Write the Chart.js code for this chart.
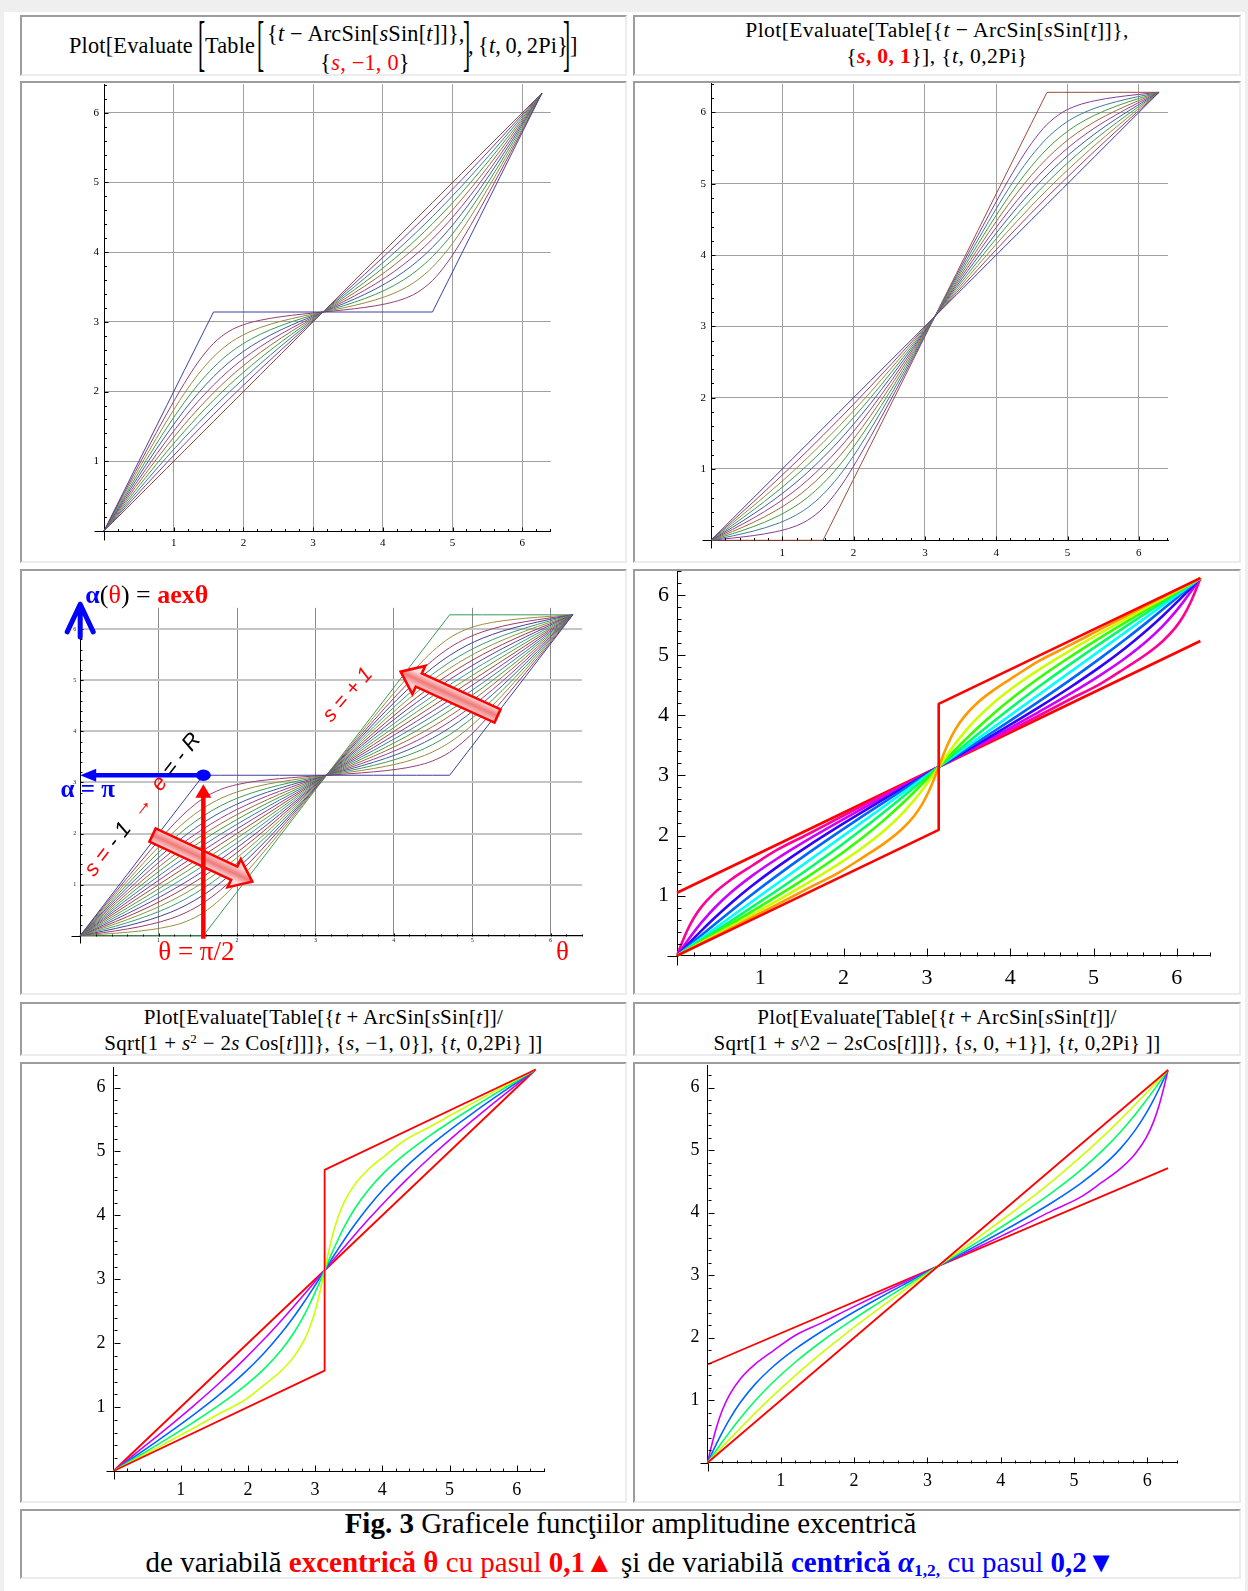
<!DOCTYPE html>
<html lang="ro">
<head>
<meta charset="utf-8">
<title>Fig. 3</title>
<script src="https://cdn.jsdelivr.net/npm/chart.js@4.4.1/dist/chart.umd.min.js"></script>
<style>
html,body{margin:0;padding:0}
body{position:relative;width:1248px;height:1591px;background:#efefef;overflow:hidden;font-family:"Liberation Serif","Times New Roman",serif;color:#000}
#sheet{position:absolute;left:4px;top:12px;width:1241px;height:1579px;background:#fff}
.cell{position:absolute;box-sizing:border-box;border-style:solid;border-width:2px;border-color:#9d9d9d #ececec #ececec #9d9d9d;background:#fff}
.cell canvas{position:absolute;left:0;top:0}
.hdr{font-size:21.6px;letter-spacing:0.4px}
.hdr3{font-size:21px;letter-spacing:0.3px}
.h1l{font-size:22.3px;letter-spacing:0.2px}
.ln{position:absolute;left:0;right:0;text-align:center;white-space:nowrap;line-height:24px}
.pc{position:absolute;white-space:nowrap;line-height:24px}
.r{color:#f00}
.bl{color:#00f}
.big{font-size:21.6px;transform:scale(1,2.85);transform-origin:50% 55%}
.stk{text-align:center;line-height:29px}
sup{font-size:0.62em;line-height:0;vertical-align:0.55em}
.cap{font-size:29px;letter-spacing:0}
.cap .ln{line-height:38.6px}
.cap sub{font-size:0.6em;line-height:0;vertical-align:-0.25em}
</style>
</head>
<body>
<div id="sheet"></div>

<div class="cell h1l" style="left:20px;top:15px;width:607px;height:61px">
  <span class="pc" style="left:47px;top:16.5px">Plot[Evaluate</span>
  <span class="pc big" style="left:176px;top:16.5px">[</span>
  <span class="pc" style="left:183px;top:16.5px">Table</span>
  <span class="pc big" style="left:235px;top:16.5px">[</span>
  <span class="pc stk" style="left:245px;top:2px;width:196px">{<i>t</i> − ArcSin[<i>s</i>Sin[<i>t</i>]]},<br>{<span class="r"><i>s</i>, −1, 0</span>}</span>
  <span class="pc big" style="left:441px;top:16.5px">]</span>
  <span class="pc" style="left:446px;top:16.5px;word-spacing:-1.5px">, {<i>t</i>, 0, 2Pi}</span>
  <span class="pc big" style="left:541px;top:16.5px">]</span>
  <span class="pc" style="left:548px;top:16.5px">]</span>
</div>
<div class="cell hdr" style="left:633px;top:15px;width:608px;height:61px">
  <div class="ln" style="top:1px">Plot[Evaluate[Table[{<i>t</i> − ArcSin[<i>s</i>Sin[<i>t</i>]]},</div>
  <div class="ln" style="top:27px">{<b class="r"><i>s</i>, 0, 1</b>}], {<i>t</i>, 0,2Pi}</div>
</div>

<div class="cell" style="left:20px;top:81px;width:607px;height:482px"><canvas id="c1"></canvas></div>
<div class="cell" style="left:633px;top:81px;width:608px;height:482px"><canvas id="c2"></canvas></div>
<div class="cell" style="left:20px;top:569px;width:607px;height:426px"><canvas id="c3"></canvas></div>
<div class="cell" style="left:633px;top:569px;width:608px;height:426px"><canvas id="c4"></canvas></div>

<div class="cell hdr3" style="left:20px;top:1002px;width:607px;height:54px">
  <div class="ln" style="top:1px">Plot[Evaluate[Table[{<i>t</i> + ArcSin[<i>s</i>Sin[<i>t</i>]]/</div>
  <div class="ln" style="top:27px">Sqrt[1 + <i>s</i><sup>2</sup> − 2<i>s</i> Cos[<i>t</i>]]]}, {<i>s</i>, −1, 0}], {<i>t</i>, 0,2Pi} ]]</div>
</div>
<div class="cell hdr3" style="left:633px;top:1002px;width:608px;height:54px">
  <div class="ln" style="top:1px">Plot[Evaluate[Table[{<i>t</i> + ArcSin[<i>s</i>Sin[<i>t</i>]]/</div>
  <div class="ln" style="top:27px">Sqrt[1 + <i>s</i>^2 − 2<i>s</i>Cos[<i>t</i>]]]}, {<i>s</i>, 0, +1}], {<i>t</i>, 0,2Pi} ]]</div>
</div>

<div class="cell" style="left:20px;top:1062px;width:607px;height:441px"><canvas id="c5"></canvas></div>
<div class="cell" style="left:633px;top:1062px;width:608px;height:441px"><canvas id="c6"></canvas></div>

<div class="cell cap" style="left:20px;top:1509px;width:1221px;height:70px">
  <div class="ln" style="top:-7.1px"><b>Fig. 3</b> Graficele funcţiilor amplitudine excentrică</div>
  <div class="ln" style="top:31.5px">de variabilă <b class="r">excentrică θ</b><span class="r"> cu pasul </span><b class="r">0,1▲</b> şi de variabilă <b class="bl">centrică <i>α</i><sub>1,2,</sub></b><span class="bl"> cu pasul </span><b class="bl">0,2▼</b></div>
</div>

<script>
// ================= DATA =================
// grid of t for the excentric families (panels 1-3)
const T25 = [0,0.3,0.6,0.9,1.15,1.35,1.5708,1.7916,1.9916,2.2416,2.5416,2.8416,3.1416,3.4416,3.7416,4.0416,4.2916,4.4916,4.7124,4.9332,5.1332,5.3832,5.6832,5.9832,6.2832];
// t - ArcSin[s Sin[t]] for s = -1 ... 1 (step 0.1)
const exS_m10 = [0,0.6,1.2,1.8,2.3,2.7,3.142,3.142,3.142,3.142,3.142,3.142,3.142,3.142,3.142,3.142,3.142,3.142,3.142,3.583,3.983,4.483,5.083,5.683,6.283];
const exS_m09 = [0,0.569,1.133,1.682,2.114,2.422,2.691,2.864,2.956,3.024,3.075,3.111,3.142,3.172,3.208,3.259,3.328,3.420,3.593,3.861,4.169,4.601,5.150,5.714,6.283];
const exS_m08 = [0,0.539,1.069,1.577,1.969,2.246,2.498,2.687,2.810,2.919,3.010,3.080,3.142,3.203,3.273,3.364,3.473,3.596,3.785,4.038,4.315,4.706,5.215,5.745,6.283];
const exS_m07 = [0,0.508,1.006,1.480,1.843,2.102,2.346,2.544,2.685,2.822,2.948,3.050,3.142,3.233,3.335,3.461,3.599,3.740,3.937,4.181,4.440,4.803,5.277,5.775,6.283];
const exS_m06 = [0,0.478,0.946,1.389,1.730,1.975,2.214,2.417,2.571,2.731,2.887,3.020,3.142,3.263,3.396,3.552,3.712,3.866,4.069,4.308,4.554,4.894,5.338,5.805,6.283];
const exS_m05 = [0,0.448,0.886,1.302,1.624,1.860,2.094,2.301,2.466,2.644,2.828,2.990,3.142,3.293,3.455,3.639,3.818,3.982,4.189,4.424,4.659,4.981,5.397,5.835,6.283];
const exS_m04 = [0,0.419,0.828,1.219,1.524,1.751,1.982,2.193,2.365,2.560,2.769,2.960,3.142,3.323,3.514,3.723,3.918,4.091,4.301,4.532,4.760,5.065,5.455,5.865,6.283];
const exS_m03 = [0,0.389,0.770,1.137,1.427,1.647,1.876,2.089,2.269,2.479,2.712,2.930,3.142,3.353,3.571,3.804,4.014,4.195,4.408,4.636,4.856,5.146,5.513,5.894,6.283];
const exS_m02 = [0,0.359,0.713,1.057,1.334,1.546,1.772,1.988,2.175,2.399,2.655,2.901,3.142,3.383,3.628,3.884,4.108,4.295,4.511,4.737,4.950,5.226,5.570,5.924,6.283];
const exS_m01 = [0,0.330,0.657,0.978,1.241,1.448,1.671,1.889,2.083,2.320,2.598,2.871,3.142,3.412,3.685,3.963,4.200,4.394,4.612,4.836,5.042,5.305,5.627,5.954,6.283];
const exS_00  = [0,0.3,0.6,0.9,1.15,1.35,1.571,1.792,1.992,2.242,2.542,2.842,3.142,3.442,3.742,4.042,4.292,4.492,4.712,4.933,5.133,5.383,5.683,5.983,6.283];
const exS_p01 = [0,0.270,0.543,0.822,1.059,1.252,1.471,1.694,1.900,2.163,2.485,2.812,3.142,3.471,3.798,4.120,4.383,4.589,4.813,5.030,5.224,5.461,5.739,6.012,6.283];
const exS_p02 = [0,0.241,0.487,0.743,0.966,1.154,1.370,1.595,1.808,2.084,2.428,2.782,3.142,3.500,3.855,4.199,4.475,4.688,4.914,5.129,5.316,5.540,5.796,6.042,6.283];
const exS_p03 = [0,0.211,0.430,0.663,0.873,1.053,1.266,1.494,1.714,2.004,2.371,2.753,3.142,3.530,3.912,4.279,4.569,4.788,5.017,5.230,5.410,5.620,5.853,6.072,6.283];
const exS_p04 = [0,0.181,0.372,0.581,0.776,0.949,1.160,1.390,1.618,1.923,2.314,2.723,3.142,3.560,3.969,4.360,4.665,4.892,5.124,5.334,5.506,5.701,5.911,6.101,6.283];
const exS_p05 = [0,0.152,0.314,0.498,0.676,0.840,1.048,1.282,1.517,1.839,2.255,2.693,3.142,3.590,4.028,4.444,4.765,5.001,5.236,5.442,5.607,5.785,5.969,6.131,6.283];
const exS_p06 = [0,0.122,0.254,0.411,0.570,0.725,0.928,1.166,1.412,1.752,2.196,2.663,3.142,3.620,4.087,4.531,4.871,5.117,5.356,5.558,5.712,5.872,6.028,6.161,6.283];
const exS_p07 = [0,0.092,0.194,0.320,0.457,0.598,0.796,1.039,1.298,1.661,2.135,2.633,3.142,3.650,4.148,4.622,4.984,5.243,5.488,5.685,5.826,5.963,6.089,6.191,6.283];
const exS_p08 = [0,0.061,0.131,0.223,0.331,0.454,0.644,0.896,1.173,1.564,2.073,2.603,3.142,3.680,4.210,4.719,5.110,5.387,5.640,5.828,5.951,6.060,6.151,6.221,6.283];
const exS_p09 = [0,0.031,0.067,0.118,0.186,0.278,0.451,0.719,1.027,1.459,2.008,2.572,3.142,3.711,4.275,4.824,5.255,5.563,5.832,6.005,6.097,6.165,6.216,6.252,6.283];
const exS_p10 = [0,0,0,0,0,0,0,0.442,0.842,1.342,1.942,2.542,3.142,3.742,4.342,4.942,5.442,5.842,6.283,6.283,6.283,6.283,6.283,6.283,6.283];

// grid of t for the centric families (panels 4-6)
const T37 = [0,0.05,0.12,0.2,0.3,0.45,0.65,0.9,1.2,1.5708,1.9416,2.2416,2.4916,2.6916,2.8416,2.9416,3.0216,3.0916,3.1416,3.1916,3.2616,3.3416,3.4416,3.5916,3.7916,4.0416,4.3416,4.7124,5.0832,5.3832,5.6332,5.8332,5.9832,6.0832,6.1632,6.2332,6.2832];
// t + ArcSin[s Sin[t]/Sqrt[1+s^2-2s Cos[t]]]  (panels 5, 6)
const cS_m08 = [0,0.0278,0.0667,0.1112,0.1668,0.2504,0.3624,0.5036,0.6759,0.8961,1.1027,1.3469,1.5643,1.7978,2.0547,2.3071,2.5860,2.8952,3.1416,3.3880,3.6972,3.9761,4.2285,4.4854,4.7189,4.9363,5.1805,5.3871,5.6073,5.7796,5.9208,6.0328,6.1164,6.1720,6.2165,6.2554,6.2832];
const cS_m06 = [0,0.0313,0.0750,0.1251,0.1878,0.2822,0.4090,0.5702,0.7694,1.0304,1.3211,1.5984,1.8841,2.1753,2.4478,2.6599,2.8458,3.0169,3.1416,3.2663,3.4374,3.6233,3.8354,4.1079,4.3991,4.6848,4.9621,5.2528,5.5138,5.7130,5.8742,6.0010,6.0954,6.1581,6.2082,6.2519,6.2832];
const cS_m04 = [0,0.0357,0.0857,0.1430,0.2147,0.3228,0.4684,0.6541,0.8852,1.1903,1.5304,1.8465,2.1503,2.4261,2.6526,2.8116,2.9423,3.0583,3.1416,3.2249,3.3409,3.4716,3.6306,3.8571,4.1329,4.4367,4.7528,5.0929,5.3980,5.6291,5.8148,5.9604,6.0685,6.1402,6.1975,6.2475,6.2832];
const cS_m02 = [0,0.0417,0.1000,0.1668,0.2504,0.3764,0.5460,0.7616,1.0279,1.3734,1.7433,2.0646,2.3486,2.5859,2.7687,2.8922,2.9917,3.0791,3.1416,3.2041,3.2915,3.3910,3.5145,3.6973,3.9346,4.2186,4.5399,4.9098,5.2553,5.5216,5.7372,5.9068,6.0328,6.1164,6.1832,6.2415,6.2832];
const cS_p02 = [0,0.0625,0.1499,0.2494,0.3729,0.5557,0.7930,1.0770,1.3983,1.7682,2.1137,2.3800,2.5956,2.7652,2.8912,2.9748,3.0416,3.0999,3.1416,3.1833,3.2416,3.3084,3.3920,3.5180,3.6876,3.9032,4.1695,4.5150,4.8849,5.2062,5.4902,5.7275,5.9103,6.0338,6.1333,6.2207,6.2832];
const cS_p04 = [0,0.0833,0.1993,0.3300,0.4890,0.7155,0.9913,1.2951,1.6112,1.9513,2.2564,2.4875,2.6732,2.8188,2.9269,2.9986,3.0559,3.1059,3.1416,3.1773,3.2273,3.2846,3.3563,3.4644,3.6100,3.7957,4.0268,4.3319,4.6720,4.9881,5.2919,5.5677,5.7942,5.9532,6.0839,6.1999,6.2832];
const cS_p06 = [0,0.1247,0.2958,0.4817,0.6938,0.9663,1.2575,1.5432,1.8205,2.1112,2.3722,2.5714,2.7326,2.8594,2.9538,3.0165,3.0666,3.1103,3.1416,3.1729,3.2166,3.2667,3.3294,3.4238,3.5506,3.7118,3.9110,4.1720,4.4627,4.7400,5.0257,5.3169,5.5894,5.8015,5.9874,6.1585,6.2832];
const cS_p08 = [0,0.2464,0.5556,0.8345,1.0869,1.3438,1.5773,1.7947,2.0389,2.2455,2.4657,2.6380,2.7792,2.8912,2.9748,3.0304,3.0749,3.1138,3.1416,3.1694,3.2083,3.2528,3.3084,3.3920,3.5040,3.6452,3.8175,4.0377,4.2443,4.4885,4.7059,4.9394,5.1963,5.4487,5.7276,6.0368,6.2832];
// straight / broken extreme curves (vertices)
const cS_m10_t = [0, 3.1416, 3.1416, 6.2832], cS_m10_y = [0, 1.5708, 4.7124, 6.2832];
const cS_00_t  = [0, 6.2832],                 cS_00_y  = [0, 6.2832];
const cS_p10_t = [0, 6.2832],                 cS_p10_y = [1.5708, 4.7124];
// mixed family of the 4th panel, s = -1 ... 1 (step 0.2)
const mS_m08 = [0,0.0352,0.0845,0.1408,0.2112,0.3169,0.4583,0.6357,0.8506,1.1210,1.3823,1.6451,1.8734,2.0957,2.3170,2.5186,2.7312,2.9607,3.1416,3.3225,3.5520,3.7646,3.9662,4.1875,4.4098,4.6381,4.9009,5.1622,5.4326,5.6475,5.8249,5.9663,6.0720,6.1424,6.1987,6.2480,6.2832];
const mS_m06 = [0,0.0375,0.0900,0.1501,0.2252,0.3381,0.4893,0.6801,0.9129,1.2105,1.5279,1.8128,2.0866,2.3474,2.5791,2.7538,2.9044,3.0418,3.1416,3.2414,3.3788,3.5294,3.7041,3.9358,4.1966,4.4704,4.7553,5.0727,5.3703,5.6031,5.7939,5.9451,6.0580,6.1331,6.1932,6.2457,6.2832];
const mS_m04 = [0,0.0405,0.0971,0.1620,0.2431,0.3652,0.5289,0.7361,0.9901,1.3171,1.6675,1.9782,2.2641,2.5146,2.7156,2.8549,2.9687,3.0694,3.1416,3.2138,3.3145,3.4283,3.5676,3.7686,4.0191,4.3050,4.6157,4.9661,5.2931,5.5471,5.7543,5.9180,6.0401,6.1212,6.1861,6.2427,6.2832];
const mS_m02 = [0,0.0445,0.1067,0.1779,0.2669,0.4009,0.5807,0.8077,1.0853,1.4392,1.8094,2.1236,2.3963,2.6211,2.7930,2.9087,3.0017,3.0833,3.1416,3.1999,3.2815,3.3745,3.4902,3.6621,3.8869,4.1596,4.4738,4.8440,5.1979,5.4755,5.7025,5.8823,6.0163,6.1053,6.1765,6.2387,6.2832];
const mS_p02 = [0,0.0583,0.1399,0.2329,0.3486,0.5205,0.7453,1.0180,1.3322,1.7024,2.0563,2.3339,2.5609,2.7407,2.8747,2.9637,3.0349,3.0971,3.1416,3.1861,3.2483,3.3195,3.4085,3.5425,3.7223,3.9493,4.2269,4.5808,4.9510,5.2652,5.5379,5.7627,5.9346,6.0503,6.1433,6.2249,6.2832];
const mS_p04 = [0,0.0722,0.1729,0.2867,0.4260,0.6270,0.8775,1.1634,1.4741,1.8245,2.1515,2.4055,2.6127,2.7764,2.8985,2.9796,3.0445,3.1011,3.1416,3.1821,3.2387,3.3036,3.3847,3.5068,3.6705,3.8777,4.1317,4.4587,4.8091,5.1198,5.4057,5.6562,5.8572,5.9965,6.1103,6.2110,6.2832];
const mS_p06 = [0,0.0998,0.2372,0.3878,0.5625,0.7942,1.0550,1.3288,1.6137,1.9311,2.2287,2.4615,2.6523,2.8035,2.9164,2.9915,3.0516,3.1041,3.1416,3.1791,3.2316,3.2917,3.3668,3.4797,3.6309,3.8217,4.0545,4.3521,4.6695,4.9544,5.2282,5.4890,5.7207,5.8954,6.0460,6.1834,6.2832];
const mS_p08 = [0,0.1809,0.4104,0.6230,0.8246,1.0459,1.2682,1.4965,1.7593,2.0206,2.2910,2.5059,2.6833,2.8247,2.9304,3.0008,3.0571,3.1064,3.1416,3.1768,3.2261,3.2824,3.3528,3.4585,3.5999,3.7773,3.9922,4.2626,4.5239,4.7867,5.0150,5.2373,5.4586,5.6602,5.8728,6.1023,6.2832];
const mS_m10_t = [0, 3.1416, 3.1416, 6.2832], mS_m10_y = [0, 2.0944, 4.1888, 6.2832];
const mS_p10_t = [0, 6.2832],                 mS_p10_y = [1.0472, 5.2360];
// axis tick values
const axisTicks = [0,1,2,3,4,5,6];

// ================= STYLE =================
const PAL = ['#3F3D99','#993D73','#998A3D','#3D9954','#3D5C99','#993D91','#996B3D','#45993D','#3D7A99','#823D99','#994C3D','#63993D','#3D9999','#633D99','#993D4C','#82993D','#3D997A','#433D99','#993D6D','#99903D','#3D995A'];
const HUE10 = ['#FF0000','#FF9900','#CCFF00','#33FF00','#00FF66','#00FFFF','#0066FF','#3300FF','#CC00FF','#FF0099','#FF0000'];
const HUE5 = ['#FF0000','#CCFF00','#00FF66','#0066FF','#CC00FF','#FF0000'];

// minor/major ticks drawn inside, Mathematica style, plus the short negative axis stubs
const mmTicks = {
  id: 'mmTicks',
  afterDatasetsDraw(chart, args, o) {
    if (!o || !o.maj) return;
    const c = chart.ctx, xs = chart.scales.x, ys = chart.scales.y;
    const x0 = Math.round(xs.getPixelForValue(0)) + 0.5, y0 = Math.round(ys.getPixelForValue(0)) + 0.5;
    c.save(); c.strokeStyle = '#000'; c.lineWidth = 1; c.beginPath();
    const nx = Math.floor(xs.max * 5 + 1e-6), ny = Math.floor(ys.max * 5 + 1e-6);
    for (let i = 1; i <= nx; i++) { const p = Math.round(xs.getPixelForValue(i / 5)) + 0.5; const l = i % 5 === 0 ? o.maj : o.min; c.moveTo(p, y0); c.lineTo(p, y0 - l); }
    for (let i = 1; i <= ny; i++) { const p = Math.round(ys.getPixelForValue(i / 5)) + 0.5; const l = i % 5 === 0 ? o.maj : o.min; c.moveTo(x0, p); c.lineTo(x0 + l, p); }
    c.moveTo(x0 - o.xl, y0); c.lineTo(x0, y0);
    c.moveTo(x0, y0); c.lineTo(x0, y0 + o.yd);
    c.stroke(); c.restore();
  }
};
Chart.register(mmTicks);

function series(xs, ys, color, w, smooth) {
  return { data: xs.map((x, i) => ({ x: x, y: ys[i] })), borderColor: color, backgroundColor: color,
    borderWidth: w, pointRadius: 0, pointHoverRadius: 0, showLine: true, fill: false, tension: 0,
    cubicInterpolationMode: smooth ? 'monotone' : 'default', clip: false, borderJoinStyle: 'round' };
}

function makeChart(id, box, g, st, datasets, plugins) {
  const cv = document.getElementById(id);
  cv.width = box.w; cv.height = box.h; cv.style.width = box.w + 'px'; cv.style.height = box.h + 'px';
  const L = g.ox - box.x, B = g.oy - box.y, R = L + g.xmax * g.ux, T = B - g.ymax * g.uy;
  const font = { family: 'Liberation Serif', size: st.fs };
  const mkTicks = s => { s.ticks = axisTicks.map(v => ({ value: v })); };
  const zeroPad = s => { s.paddingLeft = 0; s.paddingRight = 0; s.paddingTop = 0; s.paddingBottom = 0; };
  return new Chart(cv, {
    type: 'scatter',
    data: { datasets },
    options: {
      responsive: false, maintainAspectRatio: false, animation: false, devicePixelRatio: 1, events: [],
      layout: { padding: { left: L - st.yW, right: box.w - R, top: T, bottom: box.h - B - st.xH } },
      plugins: { legend: { display: false }, tooltip: { enabled: false }, mmTicks: st.mm },
      scales: {
        x: { type: 'linear', position: 'bottom', min: 0, max: g.xmax, afterBuildTicks: mkTicks,
          afterFit: s => { s.height = st.xH; zeroPad(s); },
          ticks: { font, color: st.tc || '#000', padding: st.xp, maxRotation: 0, minRotation: 0, autoSkip: false, callback: v => v === 0 ? '' : String(v) },
          grid: { display: !!st.gx, color: st.gx || '#999', lineWidth: st.gxw || 1, drawTicks: false },
          border: { display: true, color: '#000', width: 1 } },
        y: { type: 'linear', position: 'left', min: 0, max: g.ymax, afterBuildTicks: mkTicks,
          afterFit: s => { s.width = st.yW; zeroPad(s); },
          ticks: { font, color: st.tc || '#000', padding: st.yp, autoSkip: false, callback: v => v === 0 ? '' : String(v) },
          grid: { display: !!st.gy, color: st.gy || '#999', lineWidth: st.gyw || 1, drawTicks: false },
          border: { display: true, color: '#000', width: 1 } }
      }
    },
    plugins: plugins || []
  });
}

// ---------- annotations of the 3rd panel (positions in data units) ----------
const A3 = { theta: 1.5708, alpha: 3.1416, title: [0.065, 6.515], alphaTxt: [-0.25, 2.72],
  thetaTxt: [0.995, -0.475], thetaEnd: [6.07, -0.475], sPlus: [3.416, 4.713, -49], sMinus: [0.80, 2.56, -52],
  blkLo: [0.923, 1.972, 2.195, 1.057], blkUp: [5.323, 4.302, 4.087, 5.169], upTip: 6.49, upWing: 5.95, upBase: 5.85 };

function blockArrow(c, x0, y0, x1, y1) {
  const dx = x1 - x0, dy = y1 - y0, L = Math.hypot(dx, dy), ux = dx / L, uy = dy / L, nx = -uy, ny = ux;
  const hw = 7.3, hh = 15.5, hl = 20;
  const bx = x1 - ux * hl, by = y1 - uy * hl;
  const pts = [[x0 + nx * hw, y0 + ny * hw], [bx + nx * hw, by + ny * hw], [bx + nx * hh, by + ny * hh], [x1, y1],
    [bx - nx * hh, by - ny * hh], [bx - nx * hw, by - ny * hw], [x0 - nx * hw, y0 - ny * hw]];
  const gr = c.createLinearGradient(x0 + nx * hw, y0 + ny * hw, x0 - nx * hw, y0 - ny * hw);
  gr.addColorStop(0, '#fde2e2'); gr.addColorStop(0.5, '#f07a7a'); gr.addColorStop(1, '#fbd0d0');
  c.beginPath(); pts.forEach((p, i) => i ? c.lineTo(p[0], p[1]) : c.moveTo(p[0], p[1])); c.closePath();
  c.fillStyle = gr; c.fill(); c.lineWidth = 2.6; c.strokeStyle = '#ff0000'; c.lineJoin = 'miter'; c.stroke();
}
function runText(c, x, y, parts) {
  for (const [t, f, col] of parts) { c.font = f; c.fillStyle = col; c.fillText(t, x, y); x += c.measureText(t).width; }
}
function rotText(c, cx, cy, deg, parts) {
  c.save(); c.translate(cx, cy); c.rotate(deg * Math.PI / 180); c.textBaseline = 'middle';
  let w = 0; for (const [t, f] of parts) { c.font = f; w += c.measureText(t).width; }
  runText(c, -w / 2, 0, parts); c.restore();
}
const ann3 = {
  id: 'ann3',
  afterDraw(chart) {
    const c = chart.ctx, X = v => chart.scales.x.getPixelForValue(v), Y = v => chart.scales.y.getPixelForValue(v);
    c.save();
    blockArrow(c, X(A3.blkLo[0]), Y(A3.blkLo[1]), X(A3.blkLo[2]), Y(A3.blkLo[3]));
    blockArrow(c, X(A3.blkUp[0]), Y(A3.blkUp[1]), X(A3.blkUp[2]), Y(A3.blkUp[3]));
    const xp = X(A3.theta), yd = Y(A3.alpha), x0 = X(0);
    // red vertical arrow
    c.strokeStyle = '#ff0000'; c.lineWidth = 4.5; c.lineCap = 'butt';
    c.beginPath(); c.moveTo(xp, Y(-0.06)); c.lineTo(xp, yd + 20); c.stroke();
    c.fillStyle = '#ff0000'; c.beginPath(); c.moveTo(xp, yd + 9); c.lineTo(xp - 8, yd + 22.5); c.lineTo(xp + 8, yd + 22.5); c.closePath(); c.fill();
    // blue horizontal arrow
    c.strokeStyle = '#0000ff'; c.fillStyle = '#0000ff'; c.lineWidth = 4.5;
    c.beginPath(); c.moveTo(xp, yd); c.lineTo(x0 + 12, yd); c.stroke();
    c.beginPath(); c.moveTo(x0, yd); c.lineTo(x0 + 16, yd - 6.5); c.lineTo(x0 + 16, yd + 6.5); c.closePath(); c.fill();
    c.beginPath(); c.ellipse(xp, yd, 7.5, 5.8, 0, 0, Math.PI * 2); c.fill();
    // blue arrow on the vertical axis
    c.lineWidth = 5; c.lineCap = 'round'; c.lineJoin = 'round';
    c.beginPath(); c.moveTo(x0 - 13, Y(A3.upWing)); c.lineTo(x0, Y(A3.upTip)); c.lineTo(x0 + 13, Y(A3.upWing));
    c.moveTo(x0, Y(A3.upTip)); c.lineTo(x0, Y(A3.upBase)); c.stroke();
    // texts
    c.textBaseline = 'alphabetic';
    const F = 'Liberation Serif';
    runText(c, X(A3.title[0]), Y(A3.title[1]), [['α', 'bold 26px ' + F, '#0000ff'], ['(', '26px ' + F, '#000'], ['θ', '26px ' + F, '#ff0000'], [')', '26px ' + F, '#000'], [' = ', '26px ' + F, '#000'], ['aexθ', 'bold 26px ' + F, '#ff0000']]);
    runText(c, X(A3.alphaTxt[0]), Y(A3.alphaTxt[1]), [['α = π', 'bold 25px ' + F, '#0000ff']]);
    runText(c, X(A3.thetaTxt[0]), Y(A3.thetaTxt[1]), [['θ = π/2', '27px ' + F, '#ff0000']]);
    runText(c, X(A3.thetaEnd[0]), Y(A3.thetaEnd[1]), [['θ', '27px ' + F, '#ff0000']]);
    const S = 'italic 21px Liberation Sans', S2 = 'italic 22px Liberation Sans';
    rotText(c, X(A3.sPlus[0]), Y(A3.sPlus[1]), A3.sPlus[2], [['s = + 1', S, '#ff0000']]);
    rotText(c, X(A3.sMinus[0]), Y(A3.sMinus[1]), A3.sMinus[2], [['s = ', S2, '#ff0000'], ['- 1  ', S2, '#000'], ['→  ', S2, '#ff0000'], ['e', S2, '#ff0000'], [' = - R', S2, '#000']]);
    c.restore();
  }
};

// ================= BUILD =================
const list1 = [exS_m10, exS_m09, exS_m08, exS_m07, exS_m06, exS_m05, exS_m04, exS_m03, exS_m02, exS_m01, exS_00];
const list2 = [exS_00, exS_p01, exS_p02, exS_p03, exS_p04, exS_p05, exS_p06, exS_p07, exS_p08, exS_p09, exS_p10];
const list3 = list1.concat(list2.slice(1));

makeChart('c1', { x: 22, y: 83, w: 603, h: 478 }, { ox: 104, oy: 531, ux: 69.7, uy: 69.7, xmax: 6.41, ymax: 6.41 },
  { yW: 30, xH: 25, fs: 11, xp: 6, yp: 5, gx: '#a0a0a0', gy: '#a0a0a0', mm: { maj: 4, min: 2.5, xl: 10, yd: 9 } },
  list1.map((ys, i) => series(T25, ys, PAL[i], 1, i > 0 && i < 10)));

makeChart('c2', { x: 635, y: 83, w: 604, h: 478 }, { ox: 711, oy: 540.3, ux: 71.3, uy: 71.3, xmax: 6.41, ymax: 6.4 },
  { yW: 30, xH: 20, fs: 11, xp: 6, yp: 5, gx: '#a0a0a0', gy: '#a0a0a0', mm: { maj: 4, min: 2.5, xl: 9, yd: 8 } },
  list2.map((ys, i) => series(T25, ys, PAL[i], 1, i > 0 && i < 10)));

makeChart('c3', { x: 22, y: 571, w: 603, h: 422 }, { ox: 80.2, oy: 935.7, ux: 78.4, uy: 51.07, xmax: 6.40, ymax: 6.42 },
  { yW: 20, xH: 20, fs: 6, xp: 1, yp: 4, tc: '#222', gx: '#8a8a8a', gxw: 1, gy: '#c4c4c4', gyw: 2, mm: { maj: 3, min: 2, xl: 9, yd: 7 } },
  list3.map((ys, i) => series(T25, ys, PAL[i], 1, i > 0 && i < 20)), [ann3]);

const list4 = [mS_m08, mS_m06, mS_m04, mS_m02, null, mS_p02, mS_p04, mS_p06, mS_p08];
const ds4 = [series(mS_m10_t, mS_m10_y, HUE10[0], 2.6, false)];
list4.forEach((ys, i) => ds4.push(ys ? series(T37, ys, HUE10[i + 1], 2.6, true) : series(cS_00_t, cS_00_y, HUE10[i + 1], 2.6, false)));
ds4.push(series(mS_p10_t, mS_p10_y, HUE10[10], 2.6, false));
makeChart('c4', { x: 635, y: 571, w: 604, h: 422 }, { ox: 677, oy: 955.7, ux: 83.3, uy: 60.1, xmax: 6.40, ymax: 6.40 },
  { yW: 35, xH: 30, fs: 22, xp: 9, yp: 8, mm: { maj: 8, min: 4, xl: 10, yd: 9 } }, ds4);

const ds5 = [series(cS_m10_t, cS_m10_y, HUE5[0], 1.8, false)];
[cS_m08, cS_m06, cS_m04, cS_m02].forEach((ys, i) => ds5.push(series(T37, ys, HUE5[i + 1], 1.6, true)));
ds5.push(series(cS_00_t, cS_00_y, HUE5[5], 1.8, false));
makeChart('c5', { x: 22, y: 1064, w: 603, h: 437 }, { ox: 113.5, oy: 1471, ux: 67.2, uy: 63.9, xmax: 6.42, ymax: 6.32 },
  { yW: 40, xH: 25, fs: 18, xp: 8, yp: 8, mm: { maj: 6, min: 3, xl: 8, yd: 8 } }, ds5);

const ds6 = [series(cS_00_t, cS_00_y, HUE5[0], 1.8, false)];
[cS_p02, cS_p04, cS_p06, cS_p08].forEach((ys, i) => ds6.push(series(T37, ys, HUE5[i + 1], 1.6, true)));
ds6.push(series(cS_p10_t, cS_p10_y, HUE5[5], 1.8, false));
makeChart('c6', { x: 635, y: 1064, w: 604, h: 437 }, { ox: 707.5, oy: 1462.7, ux: 73.3, uy: 62.5, xmax: 6.41, ymax: 6.35 },
  { yW: 40, xH: 30, fs: 18, xp: 8, yp: 8, mm: { maj: 6, min: 3, xl: 8, yd: 8 } }, ds6);
</script>
</body>
</html>
